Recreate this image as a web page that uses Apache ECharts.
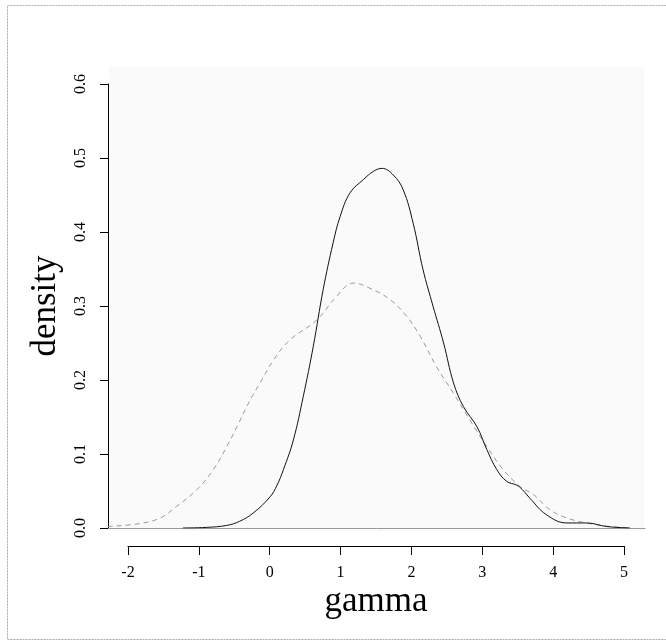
<!DOCTYPE html>
<html>
<head>
<meta charset="utf-8">
<script src="https://cdn.jsdelivr.net/npm/echarts@6/dist/echarts.min.js"></script>
<style>html,body{margin:0;padding:0;background:#fff}#c{width:666px;height:641px}</style>
</head>
<body>
<div id="c"></div>
<script>
// Solid density curve
var solidX = [-1.23, -0.9, -0.61, -0.43, -0.24, 0.0, 0.1, 0.19, 0.33, 0.47, 0.61, 0.75, 0.89, 0.99, 1.13, 1.32, 1.46, 1.58, 1.74, 1.88, 2.02, 2.16, 2.30, 2.45, 2.59, 2.73, 2.92, 3.06, 3.20, 3.34, 3.48, 3.56, 3.67, 3.90, 4.19, 4.47, 4.75, 5.08];
var solidY = [0, 0.0008, 0.0035, 0.009, 0.02, 0.042, 0.058, 0.079, 0.119, 0.178, 0.245, 0.322, 0.385, 0.421, 0.453, 0.471, 0.482, 0.486, 0.477, 0.457, 0.412, 0.349, 0.30, 0.25, 0.196, 0.164, 0.137, 0.106, 0.079, 0.063, 0.058, 0.052, 0.04, 0.018, 0.0068, 0.0068, 0.002, 0];
// Dashed density curve
var dashX = [-2.29, -1.84, -1.55, -1.32, -1.03, -0.80, -0.61, -0.45, -0.28, -0.14, 0.05, 0.28, 0.66, 0.94, 1.18, 1.41, 1.69, 1.93, 2.12, 2.35, 2.59, 2.82, 3.06, 3.29, 3.53, 3.72, 3.95, 4.19, 4.47, 4.80, 5.10];
var dashY = [0.002, 0.006, 0.0135, 0.029, 0.052, 0.079, 0.11, 0.14, 0.173, 0.196, 0.227, 0.254, 0.281, 0.313, 0.331, 0.324, 0.309, 0.286, 0.259, 0.218, 0.182, 0.146, 0.11, 0.079, 0.056, 0.045, 0.0247, 0.0135, 0.0068, 0.002, 0];
var xTicks = [-2, -1, 0, 1, 2, 3, 4, 5];
var yTicks = [0.0, 0.1, 0.2, 0.3, 0.4, 0.5, 0.6];

function pairs(xs, ys) { return xs.map(function (x, i) { return [x, ys[i]]; }); }

var serif = '"Liberation Serif", "DejaVu Serif", serif';
var chart = echarts.init(document.getElementById('c'), null, {renderer: 'canvas'});
chart.setOption({
  animation: false,
  backgroundColor: '#fff',
  graphic: [{
    type: 'rect', silent: true,
    shape: {x: 7.5, y: 5.5, width: 680, height: 634},
    style: {fill: 'none', stroke: '#aaa', lineWidth: 1, lineDash: [2, 1]}
  }],
  grid: [
    {left: 109, right: 22, top: 66, bottom: 110, show: true, backgroundColor: '#fafafa', borderWidth: 0},
    {left: 108, right: 21, top: 84, bottom: 113},
    {left: 128, right: 42, top: 536, bottom: 95}
  ],
  xAxis: [
    {gridIndex: 0, type: 'value', show: false, min: 0, max: 1},
    {gridIndex: 1, type: 'value', min: -2.286, max: 5.292,
      axisLine: {show: true, onZero: false, lineStyle: {color: '#999', width: 1}},
      axisTick: {show: false}, axisLabel: {show: false}, splitLine: {show: false}},
    {gridIndex: 2, type: 'value', min: -2, max: 5, interval: 1,
      name: 'gamma', nameLocation: 'middle', nameGap: 38,
      nameTextStyle: {fontFamily: serif, fontSize: 35, color: '#000'},
      axisLine: {show: true, onZero: false, lineStyle: {color: '#000', width: 1}},
      axisTick: {show: true, inside: false, length: 9, lineStyle: {color: '#000'}},
      axisLabel: {fontFamily: serif, fontSize: 16, color: '#000', margin: 19,
        formatter: function (v) { return xTicks.indexOf(v) >= 0 ? String(v) : ''; }},
      splitLine: {show: false}}
  ],
  yAxis: [
    {gridIndex: 0, type: 'value', show: false, min: 0, max: 1},
    {gridIndex: 1, type: 'value', min: 0, max: 0.6, interval: 0.1,
      name: 'density', nameLocation: 'middle', nameGap: 45, nameRotate: 90,
      nameTextStyle: {fontFamily: serif, fontSize: 35, color: '#000'},
      axisLine: {show: true, onZero: false, lineStyle: {color: '#000', width: 1}},
      axisTick: {show: true, length: 8, lineStyle: {color: '#000'}},
      axisLabel: {fontFamily: serif, fontSize: 16, color: '#000', rotate: 90, margin: 19,
        formatter: function (v) { var t = yTicks.filter(function (k) { return Math.abs(k - v) < 1e-9; }); return t.length ? t[0].toFixed(1) : ''; }},
      splitLine: {show: false}},
    {gridIndex: 2, type: 'value', show: false, min: 0, max: 1}
  ],
  series: [
    {type: 'line', xAxisIndex: 1, yAxisIndex: 1, data: pairs(dashX, dashY), smooth: 0.4,
      showSymbol: false, symbol: 'none', lineStyle: {color: '#999', width: 1, type: [5, 4]}},
    {type: 'line', xAxisIndex: 1, yAxisIndex: 1, data: pairs(solidX, solidY), smooth: 0.4,
      showSymbol: false, symbol: 'none', lineStyle: {color: '#111', width: 1}}
  ]
});
</script>
</body>
</html>
